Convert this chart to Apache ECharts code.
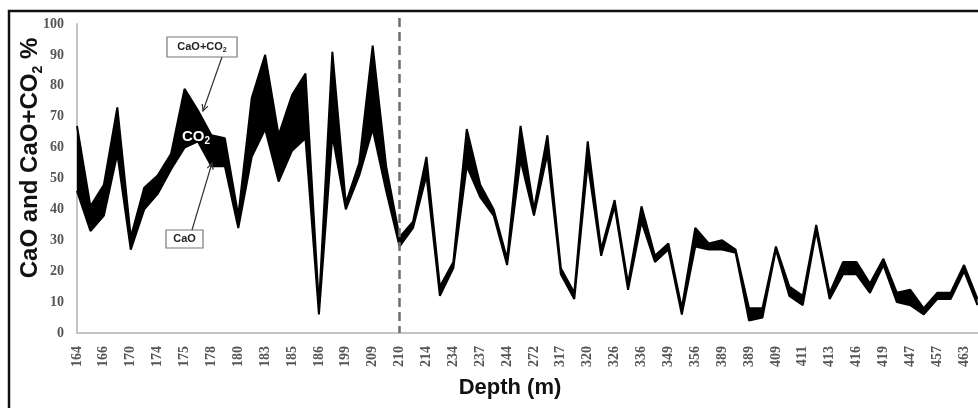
<!DOCTYPE html>
<html>
<head>
<meta charset="utf-8">
<script src="https://cdn.jsdelivr.net/npm/echarts@6/dist/echarts.min.js"></script>
<style>
html,body{margin:0;padding:0;background:#fff;}
#chart{width:978px;height:408px;}
</style>
</head>
<body>
<div id="chart"></div>
<script>
// Depth categories (every second one is labelled in the figure)
const depths = [
  '164','165','166','168','170','172','174','174','175','177',
  '178','179','180','182','183','184','185','185','186','190',
  '199','205','209','209','210','212','214','220','234','235',
  '237','240','244','260','272','300','317','318','320','323',
  '326','330','336','340','349','352','356','370','389','389',
  '389','400','409','410','411','412','413','414','416','418',
  '419','430','447','450','457','460','463','468'
];
// CaO + CO2 (%) — upper outline
const caoCo2 = [
  67,41,48,73,31,47,51,58,79,72,
  64,63,38,76,90,64,77,84,9,91,
  42,55,93,54,31,36,57,15,23,66,
  48,40,24,67,40,64,21,13,62,27,
  43,16,41,25,29,8,34,29,30,27,
  8,8,28,15,12,35,13,23,23,16,
  24,13,14,8,13,13,22,11
];
// CaO (%) — lower outline
const cao = [
  46,33,38,58,27,40,45,53,60,62,
  54,54,34,57,66,49,59,63,6,64,
  40,51,66,46,28,34,51,12,21,54,
  44,38,22,56,38,58,19,11,55,25,
  41,14,36,23,27,6,28,27,27,26,
  4,5,27,12,9,33,11,19,19,13,
  22,10,9,6,11,11,20,9
];
const yTicks = [0,10,20,30,40,50,60,70,80,90,100];
const boundaryDepthIndex = 24; // dashed line at 210 m

const co2Band = caoCo2.map((v, i) => v - cao[i]);

const chart = echarts.init(document.getElementById('chart'), null, {renderer: 'canvas'});

const arrowHead = (tx, ty, fx, fy) => {
  const ang = Math.atan2(ty - fy, tx - fx);
  const L = 7, a = 0.45;
  return [
    [tx - L * Math.cos(ang - a), ty - L * Math.sin(ang - a)],
    [tx, ty],
    [tx - L * Math.cos(ang + a), ty - L * Math.sin(ang + a)]
  ];
};

chart.setOption({
  backgroundColor: '#ffffff',
  animation: false,
  grid: {left: 77, right: 0.5, top: 24, bottom: 75, containLabel: false},
  xAxis: {
    type: 'category',
    data: depths,
    boundaryGap: false,
    axisLine: {show: true, lineStyle: {color: '#c4c4c4', width: 2}},
    axisTick: {show: false},
    axisLabel: {
      interval: 1,
      rotate: 90,
      margin: 13,
      fontFamily: 'Liberation Serif',
      fontWeight: 'bold',
      fontSize: 14,
      color: '#555'
    },
    splitLine: {show: false}
  },
  yAxis: {
    type: 'value',
    min: yTicks[0],
    max: yTicks[yTicks.length - 1],
    interval: 10,
    axisLine: {show: true, lineStyle: {color: '#c4c4c4', width: 2}},
    axisTick: {show: false},
    splitLine: {show: false},
    axisLabel: {
      margin: 13,
      fontFamily: 'Liberation Serif',
      fontWeight: 'bold',
      fontSize: 14,
      color: '#555'
    }
  },
  series: [
    {
      name: 'CaO',
      type: 'line',
      stack: 'total',
      data: cao,
      symbol: 'none',
      lineStyle: {color: '#000', width: 2},
      z: 3
    },
    {
      name: 'CO2',
      type: 'line',
      stack: 'total',
      data: co2Band,
      symbol: 'none',
      lineStyle: {color: '#000', width: 2},
      areaStyle: {color: '#000', opacity: 1},
      z: 2,
      markLine: {
        silent: true,
        symbol: 'none',
        label: {show: false},
        lineStyle: {color: '#6e6e6e', width: 2.5, type: [9, 5]},
        data: [[{xAxis: boundaryDepthIndex, y: 18}, {xAxis: boundaryDepthIndex, yAxis: 0}]]
      }
    }
  ],
  graphic: [
    {type: 'rect', shape: {x: 9, y: 11, width: 1000, height: 420},
     style: {fill: 'none', stroke: '#111', lineWidth: 2.5}, z: 100, silent: true},
    {type: 'text', x: 30, y: 158, rotation: Math.PI / 2, z: 100,
     style: {
       text: '{a|CaO and CaO+CO}{s|2}{a| %}',
       align: 'center', verticalAlign: 'middle',
       rich: {
         a: {fontFamily: 'Liberation Sans', fontWeight: 'bold', fontSize: 24, fill: '#111', lineHeight: 30, verticalAlign: 'middle'},
         s: {fontFamily: 'Liberation Sans', fontWeight: 'bold', fontSize: 14, fill: '#111', lineHeight: 30, verticalAlign: 'bottom', padding: [12, 0, 0, 0]}
       }
     }},
    {type: 'text', x: 510, y: 388, z: 100,
     style: {text: 'Depth (m)', fontFamily: 'Liberation Sans', fontWeight: 'bold', fontSize: 22, fill: '#111',
             align: 'center', verticalAlign: 'middle'}},
    // CaO+CO2 callout
    {type: 'rect', shape: {x: 167, y: 37, width: 70, height: 20},
     style: {fill: '#fff', stroke: '#777', lineWidth: 1.2}, z: 100},
    {type: 'text', x: 202, y: 47, z: 101,
     style: {text: '{a|CaO+CO}{s|2}', align: 'center', verticalAlign: 'middle',
       rich: {
         a: {fontFamily: 'Liberation Sans', fontWeight: 'bold', fontSize: 11, fill: '#222', lineHeight: 14},
         s: {fontFamily: 'Liberation Sans', fontWeight: 'bold', fontSize: 7, fill: '#222', lineHeight: 14, verticalAlign: 'bottom', padding: [5, 0, 0, 0]}
       }}},
    {type: 'polyline', shape: {points: [[222, 57], [203, 111]]},
     style: {stroke: '#333', lineWidth: 1.2, fill: 'none'}, z: 100},
    {type: 'polyline', shape: {points: arrowHead(203, 111, 222, 57)},
     style: {stroke: '#333', lineWidth: 1.2, fill: 'none'}, z: 100},
    // CaO callout
    {type: 'rect', shape: {x: 166, y: 230, width: 37, height: 18},
     style: {fill: '#fff', stroke: '#777', lineWidth: 1.2}, z: 100},
    {type: 'text', x: 184.5, y: 239, z: 101,
     style: {text: 'CaO', fontFamily: 'Liberation Sans', fontWeight: 'bold', fontSize: 11, fill: '#222',
             align: 'center', verticalAlign: 'middle'}},
    {type: 'polyline', shape: {points: [[192, 230], [212, 163]]},
     style: {stroke: '#333', lineWidth: 1.2, fill: 'none'}, z: 100},
    {type: 'polyline', shape: {points: arrowHead(212, 163, 192, 230)},
     style: {stroke: '#333', lineWidth: 1.2, fill: 'none'}, z: 100},
    // CO2 label inside band
    {type: 'text', x: 196, y: 137, z: 101,
     style: {text: '{a|CO}{s|2}', align: 'center', verticalAlign: 'middle',
       rich: {
         a: {fontFamily: 'Liberation Sans', fontWeight: 'bold', fontSize: 15, fill: '#fff', lineHeight: 18},
         s: {fontFamily: 'Liberation Sans', fontWeight: 'bold', fontSize: 10, fill: '#fff', lineHeight: 18, verticalAlign: 'bottom', padding: [6, 0, 0, 0]}
       }}}
  ]
});
</script>
</body>
</html>
